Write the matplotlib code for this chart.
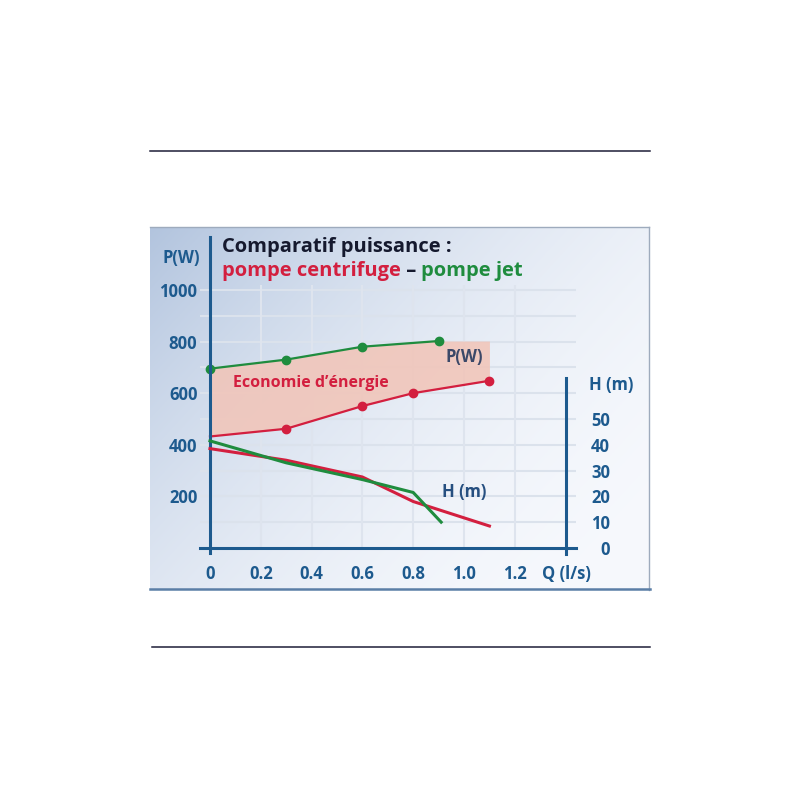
import numpy as np
import matplotlib
matplotlib.use("Agg")
import matplotlib.pyplot as plt
from matplotlib.lines import Line2D

plt.rcParams['font.family'] = ['Open Sans', 'DejaVu Sans']

# --- data ---
q_ticks = [0, 0.2, 0.4, 0.6, 0.8, 1.0, 1.2]
q_labels = ['0', '0.2', '0.4', '0.6', '0.8', '1.0', '1.2']
p_ticks = [200, 400, 600, 800, 1000]
h_ticks = [0, 10, 20, 30, 40, 50]

# puissance (W)
q_jet_p = [0, 0.3, 0.6, 0.9]
p_jet = [695, 730, 780, 802]
q_cen_p = [0, 0.3, 0.6, 0.8, 1.1]
p_cen = [432, 462, 550, 600, 648]

# hauteur (m)
q_cen_h = [0, 0.3, 0.6, 0.8, 1.1]
h_cen = [38.5, 34, 27.5, 18, 8.5]
q_jet_h = [0, 0.3, 0.6, 0.8, 0.91]
h_jet = [41.5, 33, 26.5, 21.5, 10]

RED = '#d31f3f'
GREEN = '#1f8c3e'
BLUE = '#1d5a8e'
NAVY = '#15192e'

W = 800.0
fig = plt.figure(figsize=(8, 8), dpi=100)
fig.patch.set_facecolor('white')

# panel (pixels: x 150..650, y 227..590)
ax = fig.add_axes([150 / W, 1 - 590 / W, 500 / W, 363 / W])
xlim = (-0.236, 1.732)
ylim = (-163, 1244)
ax.set_xlim(*xlim)
ax.set_ylim(*ylim)

# background gradient
u = np.linspace(0, 1, 300)
v = np.linspace(1, 0, 220)
U, V = np.meshgrid(u, v)
w = ((1 - U) * 0.6 + V * 0.4) ** 2
dark = np.array([178, 196, 222]) / 255
light = np.array([247, 249, 253]) / 255
bg = light[None, None, :] * (1 - w[..., None]) + dark[None, None, :] * w[..., None]
ax.imshow(bg, extent=(*xlim, *ylim), aspect='auto', zorder=0)

# grid
ax.hlines(np.arange(100, 1100, 100), -0.04, 1.44, color='#dbe2ec', lw=1.5, zorder=1)
ax.vlines(q_ticks[1:], 0, 1020, color='#dee4ee', lw=1.5, zorder=1)

# spines / axes
for s in ['top', 'right']:
    ax.spines[s].set_visible(False)
ax.spines['left'].set_position(('data', 0))
ax.spines['left'].set_bounds(-18, 1205)
ax.spines['bottom'].set_position(('data', 0))
ax.spines['bottom'].set_bounds(-0.04, 1.44)
for s in ['left', 'bottom']:
    ax.spines[s].set_color(BLUE)
    ax.spines[s].set_linewidth(2.2)
    ax.spines[s].set_zorder(5)

ax.set_xticks(q_ticks, q_labels)
ax.set_yticks(p_ticks)
ax.tick_params(axis='x', length=0, pad=12, labelsize=12, labelcolor=BLUE)
ax.tick_params(axis='y', length=0, pad=9, labelsize=12, labelcolor=BLUE)
for lab in ax.get_xticklabels() + ax.get_yticklabels():
    lab.set_fontweight('bold')

ax2 = ax.twinx()
ax2.set_ylim(ylim[0] / 10, ylim[1] / 10)
for s in ['top', 'left', 'bottom']:
    ax2.spines[s].set_visible(False)
ax2.spines['right'].set_position(('data', 1.4))
ax2.spines['right'].set_bounds(-2.5, 66)
ax2.spines['right'].set_color(BLUE)
ax2.spines['right'].set_linewidth(2.2)
ax2.set_yticks(h_ticks)
ax2.tick_params(axis='y', length=0, pad=32, labelsize=12, labelcolor=BLUE)
for lab in ax2.get_yticklabels():
    lab.set_ha('right')
    lab.set_fontweight('bold')

# energy saving area
q_fill = np.array(sorted(set(q_jet_p + q_cen_p)))
top = np.interp(q_fill, q_jet_p, p_jet)
bottom = np.interp(q_fill, q_cen_p, p_cen)
ax.fill_between(q_fill, bottom, top, color='#f2c4b7', alpha=0.85, lw=0, zorder=2)

# power curves
ax.plot(q_jet_p, p_jet, color=GREEN, lw=1.6, marker='o', ms=6, zorder=4)
ax.plot(q_cen_p, p_cen, color=RED, lw=1.6, marker='o', ms=6,
        markevery=[1, 2, 3, 4], zorder=4)

# head curves
ax2.plot(q_cen_h, h_cen, color=RED, lw=2.2, zorder=4)
ax2.plot(q_jet_h, h_jet, color=GREEN, lw=2.2, zorder=4)

# labels inside the chart
ax.text(0.09, 640, 'Economie d\u2019énergie', color=RED, fontsize=11.5,
        fontweight='bold', va='center', ha='left', zorder=6)
ax.text(1.0, 742, 'P(W)', color='#3b4868', fontsize=12, fontweight='bold',
        va='center', ha='center', zorder=6)
ax2.text(1.0, 21.7, 'H (m)', color='#264f80', fontsize=12, fontweight='bold',
         va='center', ha='center', zorder=6)

# axis titles
fig.text(181 / W, 1 - 258 / W, 'P(W)', color=BLUE, fontsize=12,
         fontweight='bold', ha='center', va='center')
fig.text(611 / W, 1 - 385 / W, 'H (m)', color=BLUE, fontsize=12,
         fontweight='bold', ha='center', va='center')
fig.text(566 / W, 1 - 574 / W, 'Q (l/s)', color=BLUE, fontsize=12,
         fontweight='bold', ha='center', va='center')

# title
fig.text(222 / W, 1 - 247 / W, 'Comparatif puissance :', color=NAVY,
         fontsize=14.5, fontweight='bold', ha='left', va='center')
t1 = fig.text(222 / W, 1 - 271 / W, 'pompe centrifuge', color=RED,
              fontsize=14.5, fontweight='bold', ha='left', va='center')
t2 = ax.annotate(' \u2013 ', xy=(1, 0.5), xycoords=t1, color=NAVY,
                 fontsize=14.5, fontweight='bold', ha='left', va='center',
                 annotation_clip=False)
ax.annotate('pompe jet', xy=(1, 0.5), xycoords=t2, color=GREEN,
            fontsize=14.5, fontweight='bold', ha='left', va='center',
            annotation_clip=False)

# panel border
fig.add_artist(Line2D([150 / W, 649 / W], [1 - 227 / W] * 2, color='#9eabbd', lw=1))
fig.add_artist(Line2D([649 / W] * 2, [1 - 227 / W, 1 - 590 / W], color='#9eabbd', lw=1))
fig.add_artist(Line2D([150 / W, 650 / W], [1 - 589 / W] * 2, color='#5b7ea6', lw=1.8))

# separators
fig.add_artist(Line2D([150 / W, 650 / W], [1 - 151 / W] * 2, color='#1e1e38', lw=1.1))
fig.add_artist(Line2D([152 / W, 650 / W], [1 - 647 / W] * 2, color='#1e1e38', lw=1.1))

fig.savefig('out.png', dpi=100, facecolor='white')
